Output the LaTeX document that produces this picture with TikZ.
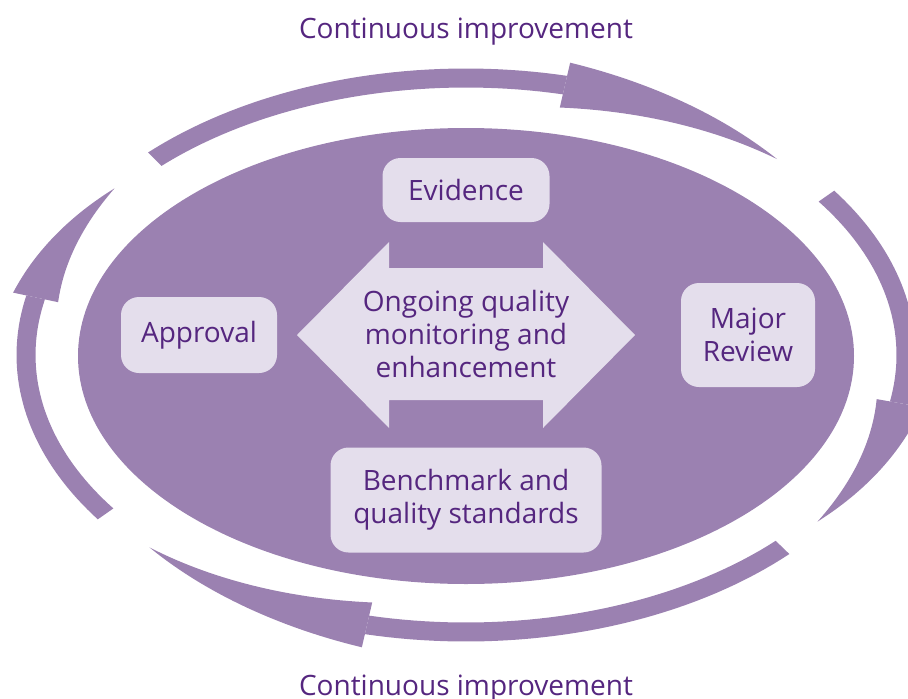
\documentclass[tikz,border=0pt]{standalone}
\usepackage{fontspec}
\setmainfont{Open Sans}
\usepackage{xcolor}
\usetikzlibrary{positioning}
\definecolor{ringpurple}{HTML}{9B81B1}
\definecolor{boxlilac}{HTML}{E4DEEC}
\definecolor{textpurple}{HTML}{55267F}

\begin{document}
\begin{tikzpicture}[x=1pt, y=-1pt,
		ring/.style={fill=ringpurple},
		label box/.style={fill=boxlilac, rounded corners=18pt, text=textpurple, align=center, inner sep=0pt, font=\fontsize{28}{33}\selectfont},
		caption/.style={text=textpurple, font=\fontsize{28}{33}\selectfont}
		]
		\useasboundingbox (0,0) rectangle (908,699);
		
		% big ellipse
		\fill[ring] (466,356) ellipse [x radius=388, y radius=228];
		
		% outer ring: four curved arrows, angles are start/head base/tip
		\foreach \astart/\abase/\atip in {135/77/45, 35/-10/-37, -44/-103/-136, 215/168/143} {
			\fill[ring] plot[domain=\astart:\abase, samples=40] ({466+449.5*cos(\x)}, {355-286.5*sin(\x)})
				-- plot[domain=\abase:\astart, samples=40] ({466+430.5*cos(\x)}, {355-267.5*sin(\x)}) -- cycle;
			\fill[ring] plot[domain=\abase:\atip, samples=30] ({466+(440+23*(\x-\atip)/(\abase-\atip))*cos(\x)}, {355-(277+23*(\x-\atip)/(\abase-\atip))*sin(\x)})
				-- plot[domain=\atip:\abase, samples=30] ({466+(440-23*(\x-\atip)/(\abase-\atip))*cos(\x)}, {355-(277-23*(\x-\atip)/(\abase-\atip))*sin(\x)}) -- cycle;
		}
		
		% double arrow in the middle
		\fill[boxlilac] (297,335) -- (389,242) -- (389,268) -- (543,268) -- (543,242) -- (635,335)
			-- (543,428) -- (543,400) -- (389,400) -- (389,428) -- cycle;
		\node[caption, align=center] (ongoing) at (466,334) {Ongoing quality\\monitoring and\\enhancement};
		
		\node[label box, minimum width=167, minimum height=64] (evidence) at (466,190) {Evidence};
		\node[label box, minimum width=156, minimum height=76] (approval) at (199,335) {Approval};
		\node[label box, minimum width=134, minimum height=104] (review) at (748,335) {Major\\Review};
		\node[label box, minimum width=271, minimum height=105] (benchmark) at (466,500) {Benchmark and\\quality standards};
		
		\node[caption, anchor=base] (top) at (466,38) {Continuous improvement};
		\node[caption, anchor=base] (bottom) at (466,695) {Continuous improvement};
	\end{tikzpicture}
\end{document}
